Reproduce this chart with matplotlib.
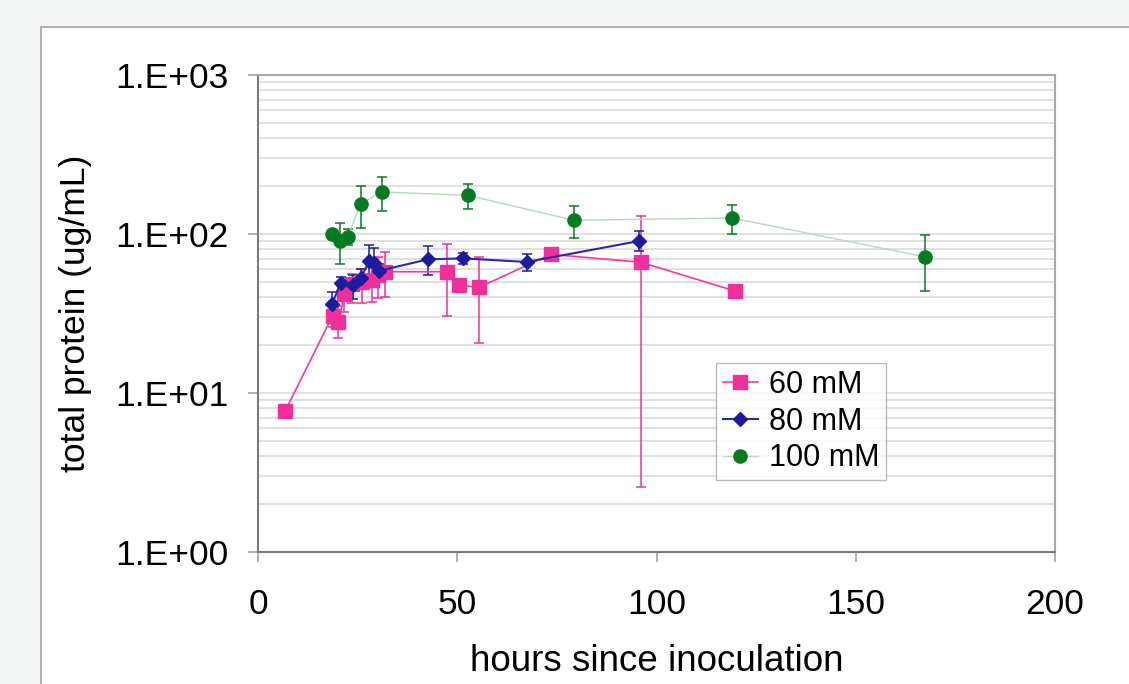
import matplotlib
matplotlib.use("Agg")
import matplotlib.pyplot as plt
import numpy as np
from matplotlib.patches import Rectangle
from matplotlib.ticker import FixedLocator, FuncFormatter, NullLocator

plt.rcParams["font.family"] = ["Liberation Sans", "DejaVu Sans"]

nan = np.nan

# 60 mM
hours_60 = [6.8, 18.7, 20.2, 21.7, 23.5, 26.0, 28.7, 30.2, 31.9, 47.5, 50.4, 55.5, 73.5, 96.1, 119.7]
prot_60 = [7.7, 30.5, 27.8, 42, 48.5, 49.7, 51.4, 55.2, 57.9, 57.9, 47.6, 46.2, 74.5, 66.4, 43.8]
lo_60 = [nan, 26, 22.3, 32.5, 37, 36.7, 37.5, 39.4, 40, 30.6, nan, 20.6, nan, 2.57, nan]
hi_60 = [nan, 35, 35, 50, 56, 60, 62, 72, 77, 86, nan, 72, nan, 130, nan]

# 80 mM
hours_80 = [18.5, 20.8, 23.9, 25.8, 27.9, 29.1, 30.4, 42.7, 51.4, 67.4, 95.7]
prot_80 = [36.1, 49, 47.8, 52.6, 67.6, 66, 58.7, 69.3, 70.3, 66.7, 90.4]
lo_80 = [31, 44, 38.8, 45, 55, 55, 52, 55, 64.5, 58.8, 78]
hi_80 = [43.4, 54, 55, 60, 85, 82, 65, 84, 76, 74.8, 104]

# 100 mM
hours_100 = [18.5, 20.6, 22.5, 25.8, 31.0, 52.6, 79.3, 119.0, 167.4]
prot_100 = [100, 90.8, 95.7, 155, 184, 175, 122, 126, 71.8]
lo_100 = [nan, 64.7, 85, 109, 139, 143, 94, 100, 43.8]
hi_100 = [nan, 117, 108, 201, 229, 206, 151, 153, 98.2]

x_ticks = [0, 50, 100, 150, 200]
y_ticks = [1, 10, 100, 1000]


def add_series(ax, x, y, lo, hi, label, color, line_color, marker, ms, lw):
    x = np.array(x, float)
    y = np.array(y, float)
    lo = np.array(lo, float)
    hi = np.array(hi, float)
    ok = ~np.isnan(lo)
    ax.errorbar(x[ok], y[ok], yerr=[y[ok] - lo[ok], hi[ok] - y[ok]], fmt="none",
                ecolor=color, elinewidth=1.1, capsize=3.4, capthick=1.1, zorder=3)
    ax.plot(x, y, color=line_color, lw=lw, marker=marker, ms=ms,
            mfc=color, mec=color, label=label, zorder=4)


fig = plt.figure(figsize=(11.29, 6.84), dpi=100)
fig.patch.set_facecolor("#f3f5f5")
panel = Rectangle((41 / 1129, -0.05), 1.1, (684 - 27) / 684 + 0.05,
                  transform=fig.transFigure, facecolor="white",
                  edgecolor="#a9a9a9", lw=1.3, zorder=-5)
fig.patches.append(panel)

ax = fig.add_axes([258 / 1129, 132 / 684, 797 / 1129, 477 / 684])
ax.set_zorder(2)
ax.set_yscale("log")
ax.set_xlim(0, 200)
ax.set_ylim(1, 1000)

add_series(ax, hours_60, prot_60, lo_60, hi_60, "60 mM", "#f0309a", "#f23a9e", "s", 9.5, 1.2)
add_series(ax, hours_80, prot_80, lo_80, hi_80, "80 mM", "#1c1c9c", "#2a2aa4", "D", 7.3, 1.5)
add_series(ax, hours_100, prot_100, lo_100, hi_100, "100 mM", "#087a22", "#b9d8bb", "o", 9.5, 1.0)

# horizontal grid at every 1..9 x 10^n
grid_vals = [m * 10 ** e for e in range(0, 3) for m in range(1, 10)][1:]
for g in grid_vals:
    ax.axhline(g, color="#e0e0e0", lw=1.4, zorder=1)

ax.xaxis.set_major_locator(FixedLocator(x_ticks))
ax.yaxis.set_major_locator(FixedLocator(y_ticks))
ax.yaxis.set_minor_locator(NullLocator())
ax.yaxis.set_major_formatter(FuncFormatter(lambda v, p: "1.E+%02d" % int(round(np.log10(v)))))

ax.tick_params(axis="both", direction="out", length=7.2, width=1.1, color="#9a9a9a",
               labelsize=25.5)
ax.tick_params(axis="y", pad=14)
ax.tick_params(axis="x", pad=19)

for side in ["left", "bottom"]:
    ax.spines[side].set_color("#7a7a7a")
    ax.spines[side].set_linewidth(1.5)
for side in ["top", "right"]:
    ax.spines[side].set_color("#a8a8a8")
    ax.spines[side].set_linewidth(1.5)

ax.set_xlabel("hours since inoculation", fontsize=26.5, labelpad=16)
ax.set_ylabel("total protein (ug/mL)", fontsize=25.5, labelpad=17)

leg = ax.legend(loc="upper left", bbox_to_anchor=(0.5747, 0.396), borderaxespad=0,
                fontsize=22, frameon=True, fancybox=False, handlelength=1.15,
                handletextpad=0.35, labelspacing=0.22, borderpad=0.22)
leg.get_frame().set_edgecolor("#a8a8a8")
leg.get_frame().set_linewidth(1.0)

fig.savefig("out.png", dpi=100, facecolor=fig.get_facecolor())
